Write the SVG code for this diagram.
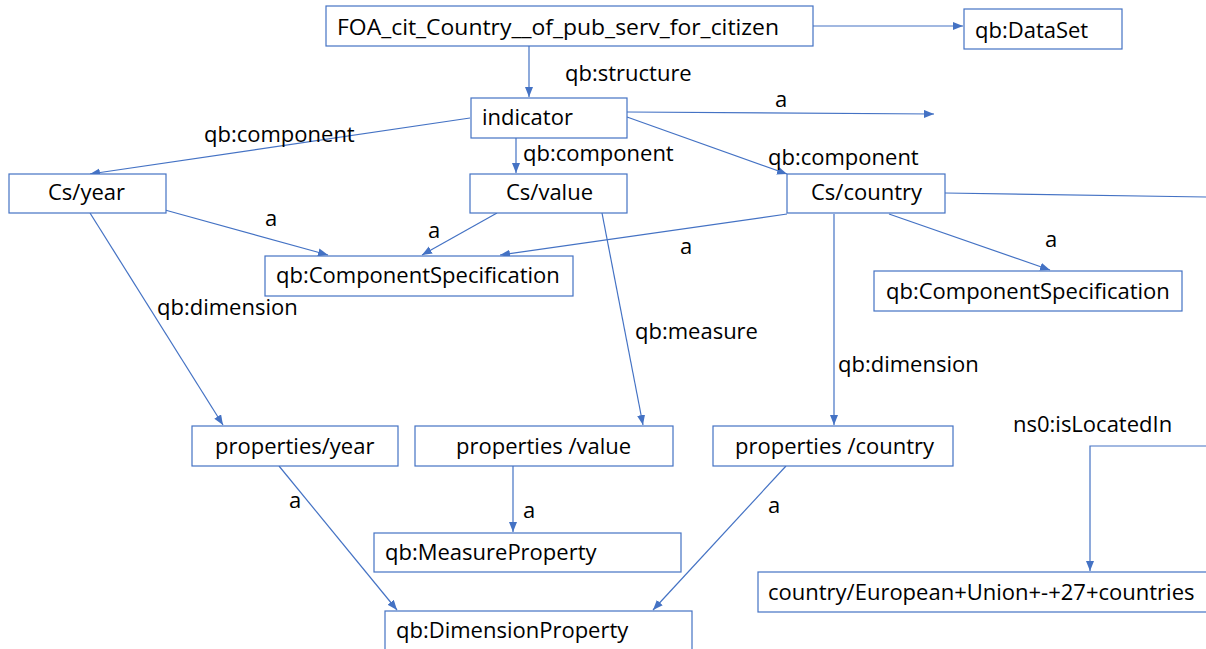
<svg xmlns="http://www.w3.org/2000/svg" width="1206" height="649" viewBox="0 0 1206 649">
<style>
.box{fill:#ffffff;stroke:#4472C4;stroke-width:1.2}
.t{font-family:"Open Sans","Liberation Sans",sans-serif;font-size:22px;fill:#000000}
.c{fill:none;stroke:#4472C4;stroke-width:1.2}
</style>
<defs>
<marker id="ah" markerUnits="userSpaceOnUse" markerWidth="11" markerHeight="9" refX="10" refY="4" orient="auto">
<path d="M0,0 L10,4 L0,8 z" fill="#4472C4"/>
</marker>
</defs>
<rect width="1206" height="649" fill="#ffffff"/>
<g id="connectors">
<path class="c" d="M813,26 L963,26" marker-end="url(#ah)"/>
<path class="c" d="M529,46 L529,97" marker-end="url(#ah)"/>
<path class="c" d="M627,112 L934,114" marker-end="url(#ah)"/>
<path class="c" d="M470,118 L90,174" marker-end="url(#ah)"/>
<path class="c" d="M516,138 L516,173" marker-end="url(#ah)"/>
<path class="c" d="M627,117 L787,174" marker-end="url(#ah)"/>
<path class="c" d="M945,193 L1206,197"/>
<path class="c" d="M165,210 L328,255" marker-end="url(#ah)"/>
<path class="c" d="M497,213 L422,255" marker-end="url(#ah)"/>
<path class="c" d="M787,214 L500,255" marker-end="url(#ah)"/>
<path class="c" d="M889,214 L1050,270" marker-end="url(#ah)"/>
<path class="c" d="M90,213 L223,425" marker-end="url(#ah)"/>
<path class="c" d="M602,213 L643,425" marker-end="url(#ah)"/>
<path class="c" d="M834,214 L834,425" marker-end="url(#ah)"/>
<path class="c" d="M279,466 L397,610" marker-end="url(#ah)"/>
<path class="c" d="M513,466 L513,532" marker-end="url(#ah)"/>
<path class="c" d="M786,466 L653,610" marker-end="url(#ah)"/>
<path class="c" d="M1206,446 L1090,446 L1090,571" marker-end="url(#ah)"/>
<text class="t" x="565" y="81">qb:structure</text>
<text class="t" x="775" y="107">a</text>
<text class="t" x="204" y="142">qb:component</text>
<text class="t" x="523" y="161">qb:component</text>
<text class="t" x="768" y="165">qb:component</text>
<text class="t" x="265" y="226">a</text>
<text class="t" x="428" y="238">a</text>
<text class="t" x="680" y="254">a</text>
<text class="t" x="1045" y="247">a</text>
<text class="t" x="157" y="315">qb:dimension</text>
<text class="t" x="635" y="339">qb:measure</text>
<text class="t" x="838" y="372">qb:dimension</text>
<text class="t" x="1013" y="432">ns0:isLocatedIn</text>
<text class="t" x="289" y="508">a</text>
<text class="t" x="523" y="518">a</text>
<text class="t" x="768" y="513">a</text>
</g>
<g id="n_foa"><rect class="box" x="326" y="6" width="487" height="40"/><text class="t" x="337" y="35" textLength="442" lengthAdjust="spacingAndGlyphs">FOA_cit_Country__of_pub_serv_for_citizen</text></g>
<g id="n_dataset"><rect class="box" x="964" y="9" width="158" height="40"/><text class="t" x="975" y="38">qb:DataSet</text></g>
<g id="n_indicator"><rect class="box" x="471" y="98" width="156" height="40"/><text class="t" x="482" y="125">indicator</text></g>
<g id="n_csyear"><rect class="box" x="9" y="174" width="157" height="39"/><text class="t" x="48" y="200">Cs/year</text></g>
<g id="n_csvalue"><rect class="box" x="470" y="174" width="157" height="39"/><text class="t" x="506" y="200">Cs/value</text></g>
<g id="n_cscountry"><rect class="box" x="787" y="174" width="158" height="39"/><text class="t" x="811" y="200">Cs/country</text></g>
<g id="n_compspec1"><rect class="box" x="265" y="256" width="308" height="40"/><text class="t" x="276" y="283">qb:ComponentSpecification</text></g>
<g id="n_compspec2"><rect class="box" x="874" y="271" width="308" height="40"/><text class="t" x="886" y="299">qb:ComponentSpecification</text></g>
<g id="n_propyear"><rect class="box" x="192" y="426" width="206" height="40"/><text class="t" x="215" y="454">properties/year</text></g>
<g id="n_propvalue"><rect class="box" x="415" y="426" width="258" height="40"/><text class="t" x="456" y="454">properties /value</text></g>
<g id="n_propcountry"><rect class="box" x="713" y="426" width="240" height="40"/><text class="t" x="735" y="454">properties /country</text></g>
<g id="n_measure"><rect class="box" x="374" y="533" width="307" height="39"/><text class="t" x="385" y="560">qb:MeasureProperty</text></g>
<g id="n_dimension"><rect class="box" x="385" y="611" width="307" height="42"/><text class="t" x="396" y="638">qb:DimensionProperty</text></g>
<g id="n_eu"><rect class="box" x="758" y="572" width="452" height="40"/><text class="t" x="768" y="600">country/European+Union+-+27+countries</text></g>
</svg>
